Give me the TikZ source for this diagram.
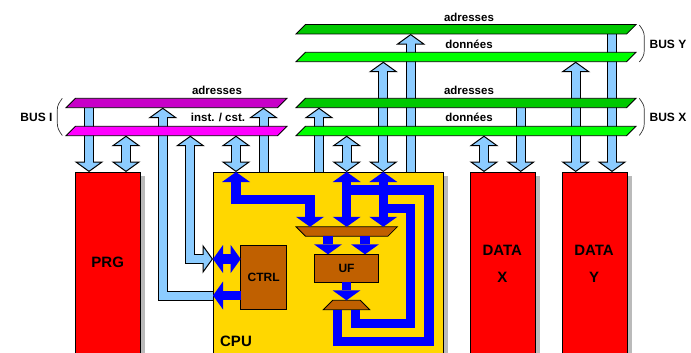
\documentclass[tikz,border=0pt]{standalone}
\usepackage{fontspec}
\setmainfont{Liberation Sans}
\usepackage{tikz}
\usetikzlibrary{shapes.geometric, arrows.meta, positioning, calc, backgrounds, shadows}
\definecolor{linkblue}{HTML}{8CCCFF}
\definecolor{brownbox}{HTML}{C06000}
\definecolor{cpugold}{HTML}{FFD700}
\definecolor{darkgreen}{HTML}{00C800}
\definecolor{darkpurple}{HTML}{C800C8}
\definecolor{brightpurple}{HTML}{FF00FF}
\tikzset{
  lighttip/.tip={Triangle[width=29pt,length=10.5pt,line width=1pt,fill=linkblue]},
  bluetip/.tip={Triangle[width=28pt,length=10pt,line width=0pt,fill=blue]},
  buslink/.style={draw=black, line width=10pt, -{lighttip},
    postaction={draw=linkblue, line width=8pt, arrows=-, shorten >=9pt}},
  buslinkb/.style={draw=black, line width=10pt, {lighttip}-{lighttip},
    postaction={draw=linkblue, line width=8pt, arrows=-, shorten >=9pt, shorten <=9pt}},
  blueline/.style={draw=blue, line width=9.3pt},
  bluelink/.style={blueline, -{bluetip}},
  bluelinkb/.style={blueline, {bluetip}-{bluetip}},
  busbar/.style={draw, line width=0.8pt, trapezium, trapezium stretches body=true, trapezium left angle=45,
    trapezium right angle=135, inner xsep=1pt, inner ysep=4.7pt, outer sep=0pt},
  mux/.style={draw, line width=0.8pt, fill=brownbox, trapezium, trapezium stretches body=true, trapezium left angle=45,
    trapezium right angle=45, inner xsep=1pt, inner ysep=4.7pt, outer sep=0pt},
  membox/.style={draw, line width=1pt, fill=red, anchor=north west, outer sep=0pt, minimum width=65pt, minimum height=190pt,
    general shadow={fill=black!27, shadow xshift=5pt, shadow yshift=-4pt}},
  unit/.style={draw, line width=0.8pt, fill=brownbox, outer sep=0pt, anchor=north west},
  buslabel/.style={font=\fontsize{11.5}{13}\selectfont\bfseries, inner sep=0pt},
  unitlabel/.style={font=\fontsize{12}{14}\selectfont\bfseries, inner sep=0pt},
  memlabel/.style={font=\fontsize{15}{17}\selectfont\bfseries, inner sep=0pt},
  busbrace/.style={draw=black!80, line width=0.7pt}
}
\begin{document}
\begin{tikzpicture}[x=1pt, y=-1pt]
    \useasboundingbox (0,0) rectangle (691,353);
    % memoires et processeur
    \node[membox] (prg) at (75,172) {};
    \node[membox] (datax) at (470,172) {};
    \node[membox] (datay) at (562,172) {};
    \node[membox, fill=cpugold, minimum width=230pt] (cpu) at (213,172) {};
    \node[unit, minimum width=46pt, minimum height=64pt] (ctrl) at (240.7,245.3) {};
    \node[unit, minimum width=64.4pt, minimum height=28pt] (uf) at (314.3,254.3) {};
    \node[mux, minimum width=101.3pt, trapezium left angle=135, trapezium right angle=135] (muxa) at (346.7,231.5) {};
    \node[mux, minimum width=46.4pt] (muxb) at (346.5,305) {};
    % bus
    \node[busbar, fill=darkpurple, minimum width=221pt] (adri) at (176.5,103) {};
    \node[busbar, fill=brightpurple, minimum width=221pt] (insti) at (176.5,131) {};
    \node[busbar, fill=darkgreen, minimum width=340pt] (adry) at (466,29.3) {};
    \node[busbar, fill=green, minimum width=340pt] (donny) at (466,57) {};
    \node[busbar, fill=darkgreen, minimum width=340pt] (adrx) at (466,103) {};
    \node[busbar, fill=green, minimum width=340pt] (donnx) at (466,131) {};
    % colonnes
    \foreach \n/\x in {a/89,b/126,c/162.8,d/190.3,e/236,f/263.5,g/319,h/346.7,i/383.3,j/410.7,k/484,l/520.7,m/575.7,n/612,p/310,q/328,r/365,s/337.3,t/355.7,u/410.7,v/429}
        \coordinate (c\n) at (\x,0);
    \foreach \n/\y in {a/259,b/295.5,c/199.3,d/190,e/208.7,f/323.3,g/341.7}
        \coordinate (l\n) at (0,\y);
    % liaisons bus
    \begin{scope}[on background layer]
    \draw[buslink] (ca |- adri.south) -- (ca |- prg.north);
    \draw[buslinkb] (cb |- insti.south) -- (cb |- prg.north);
    \draw[buslink] (cpu.west |- lb) -- (cc |- lb) -- (cc |- adri.south);
    \draw[buslinkb] (cd |- insti.south) -- (cd |- la) -- (cpu.west |- la);
    \draw[buslinkb] (ce |- insti.south) -- (ce |- cpu.north);
    \draw[buslink] (cf |- cpu.north) -- (cf |- adri.south);
    \draw[buslink] (cg |- cpu.north) -- (cg |- adrx.south);
    \draw[buslinkb] (ch |- donnx.south) -- (ch |- cpu.north);
    \draw[buslinkb] (ci |- donny.south) -- (ci |- cpu.north);
    \draw[buslink] (cj |- cpu.north) -- (cj |- adry.south);
    \draw[buslinkb] (ck |- donnx.south) -- (ck |- datax.north);
    \draw[buslink] (cl |- adrx.south) -- (cl |- datax.north);
    \draw[buslinkb] (cm |- donny.south) -- (cm |- datay.north);
    \draw[buslink] (cn |- adry.south) -- (cn |- datay.north);
    \end{scope}
    % liaisons internes
    \draw[blueline] (cs |- muxb.south) -- (cs |- lg) -- (cv |- lg) -- (cv |- ld) -- (ch |- ld);
    \draw[blueline] (ct |- muxb.south) -- (ct |- lf) -- (cu |- lf) -- (cu |- le) -- (ci |- le);
    \draw[bluelinkb] (ce |- cpu.north) -- (ce |- lc) -- (cp |- lc) -- (cp |- muxa.north);
    \draw[bluelinkb] (ch |- cpu.north) -- (ch |- muxa.north);
    \draw[bluelinkb] (ci |- cpu.north) -- (ci |- muxa.north);
    \draw[bluelink] (cq |- muxa.south) -- (cq |- uf.north);
    \draw[bluelink] (cr |- muxa.south) -- (cr |- uf.north);
    \draw[bluelink] (muxb.center |- uf.south) -- (muxb.north);
    \draw[bluelinkb] (cpu.west |- la) -- (ctrl.west |- la);
    \draw[bluelink] (ctrl.west |- lb) -- (cpu.west |- lb);
    % accolades
    \draw[busbrace] (62.3,98.3) .. controls (59,103) and (57.3,105) .. (57.3,110) -- (57.3,123) .. controls (57.3,128) and (59,131) .. (62.3,135.5);
    \draw[busbrace] (639.3,25) .. controls (642.6,29.5) and (644.3,32) .. (644.3,37) -- (644.3,50) .. controls (644.3,55) and (642.6,58) .. (639.3,62);
    \draw[busbrace] (639.3,98.3) .. controls (642.6,103) and (644.3,105) .. (644.3,110) -- (644.3,123) .. controls (644.3,128) and (642.6,131) .. (639.3,135.5);
    % textes
    \node[buslabel] (tadri) at (217,90) {adresses};
    \node[buslabel] (tinsti) at (218,117) {inst. / cst.};
    \node[buslabel] (tadry) at (469,17) {adresses};
    \node[buslabel] (tdonny) at (469,44) {données};
    \node[buslabel] (tadrx) at (469,90) {adresses};
    \node[buslabel] (tdonnx) at (469,117) {données};
    \node[buslabel, font=\fontsize{12}{14}\selectfont\bfseries] (busi) at (36.5,117) {BUS I};
    \node[buslabel, font=\fontsize{12}{14}\selectfont\bfseries] (busy) at (668,44) {BUS Y};
    \node[buslabel, font=\fontsize{12}{14}\selectfont\bfseries] (busx) at (668,117) {BUS X};
    \node[memlabel] (tprg) at (107.7,262.7) {PRG};
    \node[memlabel] (tdatax) at (502.3,250) {DATA};
    \node[memlabel] (tx) at (502.3,277) {X};
    \node[memlabel] (tdatay) at (594,250) {DATA};
    \node[memlabel] (ty) at (594,277) {Y};
    \node[memlabel] (tcpu) at (236,341) {CPU};
    \node[unitlabel] (tctrl) at (263.7,277.5) {CTRL};
    \node[unitlabel] (tuf) at (346.5,268.5) {UF};
\end{tikzpicture}
\end{document}
